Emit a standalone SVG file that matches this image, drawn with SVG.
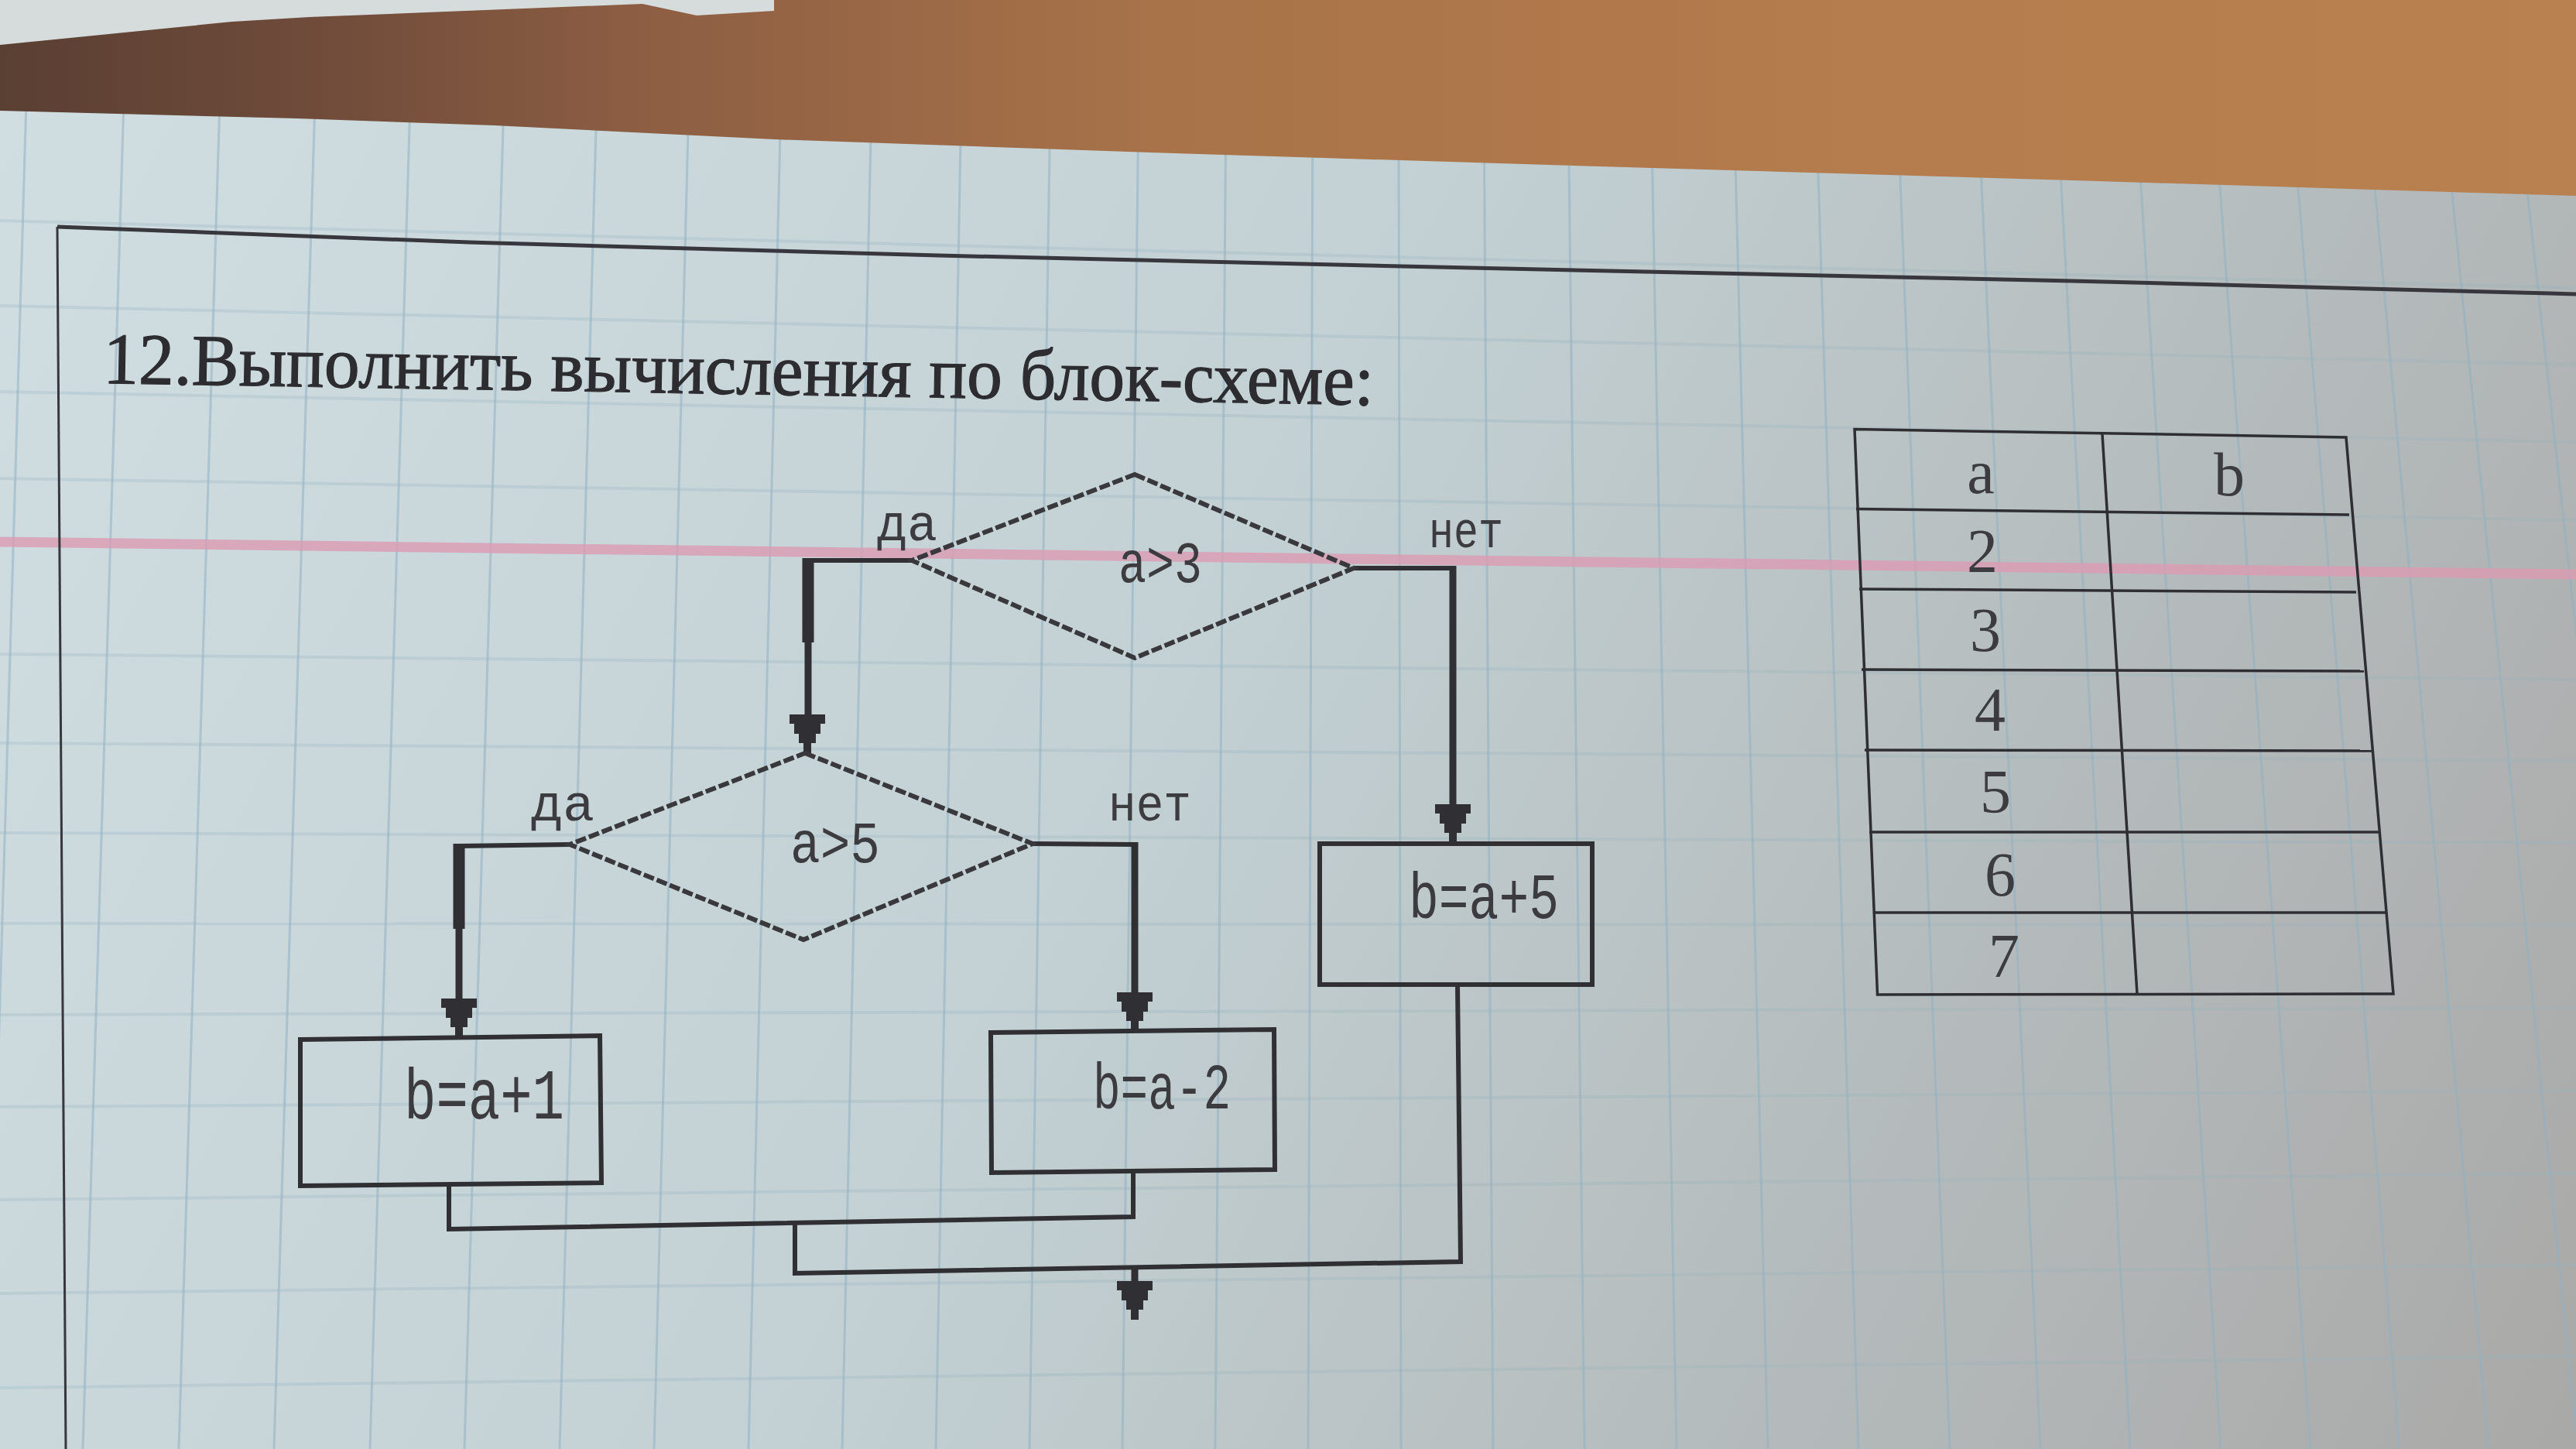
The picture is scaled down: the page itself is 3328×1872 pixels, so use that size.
<svg xmlns="http://www.w3.org/2000/svg" width="3328" height="1872" viewBox="0 0 3328 1872">
<defs>
<linearGradient id="paper" gradientUnits="userSpaceOnUse" x1="0" y1="150" x2="3328" y2="1872">
<stop offset="0" stop-color="#d0dee2"/>
<stop offset="0.45" stop-color="#c3d1d4"/>
<stop offset="0.75" stop-color="#b4babb"/>
<stop offset="1" stop-color="#a9a9a7"/>
</linearGradient>
<linearGradient id="wood" gradientUnits="userSpaceOnUse" x1="0" y1="0" x2="3328" y2="0">
<stop offset="0" stop-color="#5a3f33"/>
<stop offset="0.12" stop-color="#6f4b3a"/>
<stop offset="0.25" stop-color="#8d5e43"/>
<stop offset="0.45" stop-color="#a87349"/>
<stop offset="0.7" stop-color="#b47b4c"/>
<stop offset="1" stop-color="#b98150"/>
</linearGradient>
<path id="arr" d="M-23,0 H23 V12 H17 V25 H11 V37 H5 V50 H-5 V37 H-11 V25 H-17 V12 H-23 Z"/>
<style>
.gv{stroke:#8fb0c2;stroke-width:3;opacity:0.55;fill:none}
.gh{stroke:#98b4c0;stroke-width:4;opacity:0.28;fill:none}
.ln{stroke:#2f2f34;fill:none;stroke-linejoin:miter}
.h{stroke-width:6}
.v{stroke-width:9}
.thick{stroke-width:15}
.dia{stroke:#38383d;stroke-width:6;stroke-dasharray:14 4;fill:none}
.box{stroke:#2f2f34;stroke-width:6;fill:none}
.ah{fill:#2f2f34}
.lbl{font-family:"Liberation Mono","DejaVu Sans Mono",monospace;fill:#3b3b40}
.tb{stroke:#2e2e33;stroke-width:3.5;fill:none}
.tt{font-family:"Liberation Serif","DejaVu Serif",serif;font-size:80px;fill:#3c3c40;text-anchor:middle}
</style>
</defs>

<g id="background">
<rect x="0" y="0" width="3328" height="1872" fill="url(#paper)"/>
<g id="grid-vertical">
<line class="gv" x1="34" y1="130" x2="-17" y2="1872"/>
<line class="gv" x1="160" y1="130" x2="107" y2="1872"/>
<line class="gv" x1="284" y1="130" x2="231" y2="1872"/>
<line class="gv" x1="407" y1="130" x2="354" y2="1872"/>
<line class="gv" x1="530" y1="130" x2="478" y2="1872"/>
<line class="gv" x1="651" y1="130" x2="600" y2="1872"/>
<line class="gv" x1="771" y1="130" x2="723" y2="1872"/>
<line class="gv" x1="890" y1="130" x2="845" y2="1872"/>
<line class="gv" x1="1009" y1="130" x2="967" y2="1872"/>
<line class="gv" x1="1126" y1="130" x2="1088" y2="1872"/>
<line class="gv" x1="1242" y1="130" x2="1209" y2="1872"/>
<line class="gv" x1="1357" y1="130" x2="1330" y2="1872"/>
<line class="gv" x1="1471" y1="130" x2="1450" y2="1872"/>
<line class="gv" x1="1584" y1="130" x2="1570" y2="1872"/>
<line class="gv" x1="1696" y1="130" x2="1690" y2="1872"/>
<line class="gv" x1="1807" y1="130" x2="1810" y2="1872"/>
<line class="gv" x1="1917" y1="130" x2="1929" y2="1872"/>
<line class="gv" x1="2026" y1="130" x2="2047" y2="1872"/>
<line class="gv" x1="2133" y1="130" x2="2166" y2="1872"/>
<line class="gv" x1="2240" y1="130" x2="2284" y2="1872"/>
<line class="gv" x1="2346" y1="130" x2="2401" y2="1872"/>
<line class="gv" x1="2451" y1="130" x2="2519" y2="1872"/>
<line class="gv" x1="2555" y1="130" x2="2636" y2="1872"/>
<line class="gv" x1="2657" y1="130" x2="2752" y2="1872"/>
<line class="gv" x1="2759" y1="130" x2="2869" y2="1872"/>
<line class="gv" x1="2860" y1="130" x2="2985" y2="1872"/>
<line class="gv" x1="2960" y1="130" x2="3100" y2="1872"/>
<line class="gv" x1="3058" y1="130" x2="3215" y2="1872"/>
<line class="gv" x1="3156" y1="130" x2="3330" y2="1872"/>
<line class="gv" x1="3252" y1="130" x2="3445" y2="1872"/>
</g>
<g id="grid-horizontal">
<line class="gh" x1="0" y1="285" x2="3328" y2="372"/>
<line class="gh" x1="0" y1="395" x2="3328" y2="471"/>
<line class="gh" x1="0" y1="506" x2="3328" y2="571"/>
<line class="gh" x1="0" y1="618" x2="3328" y2="672"/>
<line class="gh" x1="0" y1="845" x2="3328" y2="878"/>
<line class="gh" x1="0" y1="960" x2="3328" y2="983"/>
<line class="gh" x1="0" y1="1076" x2="3328" y2="1089"/>
<line class="gh" x1="0" y1="1193" x2="3328" y2="1195"/>
<line class="gh" x1="0" y1="1311" x2="3328" y2="1302"/>
<line class="gh" x1="0" y1="1430" x2="3328" y2="1409"/>
<line class="gh" x1="0" y1="1550" x2="3328" y2="1516"/>
<line class="gh" x1="0" y1="1671" x2="3328" y2="1634"/>
<line class="gh" x1="0" y1="1793" x2="3328" y2="1752"/>
</g>
<line x1="0" y1="700" x2="3328" y2="742" stroke="#dc9cb2" stroke-width="13" opacity="0.8"/>
<polygon points="0,0 3328,0 3328,253 2678,233 2000,213 1486,197 1000,180 638,162 383,153 0,143" fill="url(#wood)"/>
<polygon points="0,0 1000,0 1000,14 900,20 830,5 400,22 300,28 0,58" fill="#d6dbdb"/>
</g>

<g id="frame" class="ln">
<polyline points="74,293 606,313 1212,330 1900,346 2678,363 3328,380" stroke-width="5" stroke="#37373d"/>
<line x1="74" y1="293" x2="85" y2="1872" stroke-width="3" stroke="#37373d"/>
</g>

<text id="title" x="133" y="495" transform="rotate(0.98 133 495)" font-family="Liberation Serif, DejaVu Serif, serif" font-size="94" fill="#2c2c31" stroke="#2c2c31" stroke-width="1.2" textLength="1642" lengthAdjust="spacingAndGlyphs">12.Выполнить вычисления по блок-схеме:</text>

<g id="connectors">
<polyline class="ln h" points="1178,724 1044,724"/>
<line class="ln thick" x1="1044" y1="721" x2="1044" y2="830"/>
<line class="ln v" x1="1044" y1="830" x2="1044" y2="926"/>
<use href="#arr" class="ah" x="1043" y="923"/>
<polyline class="ln h" points="1749,734 1877,734"/>
<line class="ln v" x1="1877" y1="731" x2="1877" y2="1041"/>
<use href="#arr" class="ah" x="1877" y="1039"/>
<polyline class="ln h" points="736,1091 593,1093"/>
<line class="ln thick" x1="593" y1="1090" x2="593" y2="1200"/>
<line class="ln v" x1="593" y1="1200" x2="593" y2="1292"/>
<use href="#arr" class="ah" x="593" y="1290"/>
<polyline class="ln h" points="1334,1090 1466,1091"/>
<line class="ln v" x1="1466" y1="1088" x2="1466" y2="1284"/>
<use href="#arr" class="ah" x="1466" y="1282"/>
<polyline class="ln h" points="580,1530 580,1588 1464,1572 1464,1513"/>
<polyline class="ln h" points="1027,1580 1027,1645 1887,1630 1883,1272"/>
<line class="ln v" x1="1466" y1="1636" x2="1466" y2="1657"/>
<use href="#arr" class="ah" x="1466" y="1655"/>
</g>

<g id="node-cond-a3">
<polygon class="dia" points="1466,613 1749,734 1466,850 1178,724"/>
<text class="lbl" x="1445" y="752" font-size="76" textLength="108" lengthAdjust="spacingAndGlyphs">a&gt;3</text>
<text class="lbl" x="1133" y="698" font-size="66" textLength="78" lengthAdjust="spacingAndGlyphs">да</text>
<text class="lbl" x="1846" y="707" font-size="66" textLength="96" lengthAdjust="spacingAndGlyphs">нет</text>
</g>

<g id="node-cond-a5">
<polygon class="dia" points="1040,973 1334,1090 1038,1214 736,1091"/>
<text class="lbl" x="1021" y="1114" font-size="76" textLength="116" lengthAdjust="spacingAndGlyphs">a&gt;5</text>
<text class="lbl" x="686" y="1060" font-size="66" textLength="82" lengthAdjust="spacingAndGlyphs">да</text>
<text class="lbl" x="1432" y="1060" font-size="66" textLength="107" lengthAdjust="spacingAndGlyphs">нет</text>
</g>

<g id="node-b-a5">
<rect class="box" x="1705" y="1090" width="352" height="182"/>
<text class="lbl" x="1820" y="1186" font-size="84" textLength="194" lengthAdjust="spacingAndGlyphs">b=a+5</text>
</g>

<g id="node-b-a1">
<polygon class="box" points="388,1343 775,1338 777,1528 388,1532"/>
<text class="lbl" x="522" y="1445" font-size="92" textLength="207" lengthAdjust="spacingAndGlyphs">b=a+1</text>
</g>

<g id="node-b-a-2">
<polygon class="box" points="1280,1334 1646,1330 1647,1511 1281,1515"/>
<text class="lbl" x="1412" y="1432" font-size="84" textLength="178" lengthAdjust="spacingAndGlyphs">b=a-2</text>
</g>

<g id="table">
<polygon class="tb" points="2396,554.5 3031,565 3092,1284 2425.5,1285"/>
<line class="tb" x1="2716" y1="561" x2="2761" y2="1284"/>
<line class="tb" x1="2398" y1="657.5" x2="3035" y2="665"/>
<line class="tb" x1="2402" y1="761" x2="3044" y2="765"/>
<line class="tb" x1="2405" y1="865" x2="3054" y2="867"/>
<line class="tb" x1="2409" y1="969" x2="3064" y2="970"/>
<line class="tb" x1="2415" y1="1075" x2="3073" y2="1075"/>
<line class="tb" x1="2420" y1="1179" x2="3082" y2="1179"/>
<text class="tt" x="2559" y="637">a</text>
<text class="tt" x="2880" y="640">b</text>
<text class="tt" x="2561" y="739">2</text>
<text class="tt" x="2565" y="841">3</text>
<text class="tt" x="2571" y="944">4</text>
<text class="tt" x="2578" y="1050">5</text>
<text class="tt" x="2584" y="1157">6</text>
<text class="tt" x="2589" y="1262">7</text>
</g>
</svg>
